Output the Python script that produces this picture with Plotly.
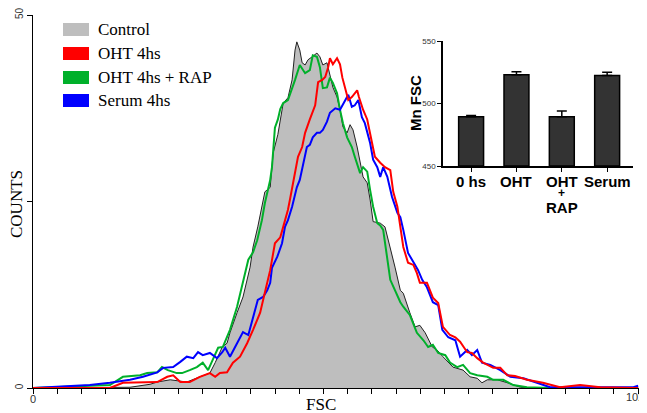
import plotly.graph_objects as go

# ---------------- Histogram data (FSC channel, counts) ----------------
ctrl_x = [0, 113, 164, 198, 210, 232, 260, 282, 299, 308, 313, 320, 328, 333, 345, 355, 367, 372, 380, 389, 392, 401, 406, 414, 423, 431, 438, 443, 446, 451, 455, 460, 465, 472, 480, 485, 490, 497, 501, 507, 514, 519, 524, 531, 536, 541, 548, 553, 558, 565, 570, 575, 587, 595, 604, 612, 621, 626, 637, 646, 654, 663, 675, 683, 693, 710, 727, 739, 751, 759, 768, 785, 802, 824, 846, 1023]
ctrl_y = [0, 0, 0.1, 0.5, 0.8, 1.1, 0.8, 1.5, 2.0, 3.4, 4.2, 5.5, 6.0, 7.4, 10.1, 12.2, 16.2, 18.9, 21.6, 24.8, 26.3, 26.9, 31.5, 34.0, 38.2, 38.9, 41.3, 45.3, 46.4, 45.3, 43.6, 43.3, 44.0, 44.4, 44.9, 44.4, 43.3, 43.6, 42.2, 40.3, 39.0, 37.3, 35.0, 34.2, 35.3, 34.6, 32.3, 30.2, 28.3, 27.5, 25.2, 22.3, 22.1, 21.6, 18.9, 16.2, 13.1, 12.7, 10.1, 8.2, 8.4, 7.4, 5.5, 5.1, 4.2, 2.8, 2.4, 1.5, 1.3, 0.7, 1.1, 1.1, 0.7, 0.1, 0, 0]

oht_x = [0, 130, 152, 186, 210, 227, 237, 249, 265, 282, 299, 308, 316, 328, 338, 350, 362, 372, 384, 392, 401, 409, 418, 423, 431, 435, 443, 448, 455, 460, 468, 477, 482, 489, 494, 499, 502, 507, 514, 519, 523, 528, 533, 539, 548, 551, 558, 565, 573, 578, 587, 595, 604, 609, 616, 621, 626, 634, 643, 649, 654, 666, 676, 685, 693, 705, 714, 722, 734, 742, 751, 761, 778, 790, 802, 815, 835, 862, 891, 925, 959, 1015, 1023]
oht_y = [0, 0, 0.7, 0.7, 0.8, 1.5, 1.7, 0.8, 0.8, 1.5, 2.0, 1.5, 2.0, 2.1, 3.4, 4.2, 6.0, 7.8, 10.1, 12.8, 15.8, 19.4, 20.2, 21.6, 23.9, 25.5, 29.2, 31.0, 32.3, 34.2, 36.0, 37.9, 41.0, 41.3, 41.7, 43.0, 44.2, 43.4, 44.2, 43.4, 41.6, 39.9, 38.6, 39.0, 39.9, 39.0, 37.3, 36.0, 33.2, 31.0, 30.2, 29.6, 29.2, 26.3, 24.3, 21.8, 18.9, 16.8, 16.5, 15.4, 14.1, 14.1, 12.1, 11.4, 8.2, 7.1, 6.8, 6.2, 4.8, 4.7, 4.0, 3.4, 2.7, 2.7, 1.7, 1.6, 1.1, 0.7, 0.1, 0.4, 0.1, 0, 0]

rap_x = [0, 130, 152, 181, 193, 210, 218, 228, 243, 252, 265, 277, 287, 296, 304, 313, 321, 333, 345, 355, 364, 372, 379, 387, 392, 397, 401, 404, 406, 409, 414, 418, 423, 431, 443, 451, 460, 468, 473, 480, 485, 490, 497, 502, 507, 514, 519, 524, 531, 539, 544, 553, 558, 565, 570, 575, 582, 587, 592, 599, 604, 621, 626, 637, 649, 660, 668, 676, 685, 697, 705, 717, 727, 739, 751, 768, 778, 795, 812, 835, 874, 1023]
rap_y = [0, 0.4, 1.5, 1.7, 2.0, 2.1, 2.8, 2.4, 2.0, 2.0, 2.4, 2.8, 3.4, 2.4, 3.8, 5.4, 5.5, 7.8, 10.9, 14.1, 17.2, 18.2, 19.8, 22.5, 24.8, 26.5, 27.9, 29.6, 32.3, 34.9, 36.0, 37.4, 38.2, 38.6, 41.3, 43.3, 42.2, 42.6, 44.6, 44.4, 43.0, 40.2, 40.3, 41.6, 40.9, 39.5, 37.3, 35.5, 33.6, 32.3, 31.0, 28.8, 29.6, 29.0, 26.5, 24.3, 22.1, 21.8, 21.2, 17.6, 14.5, 11.5, 10.9, 9.8, 7.4, 6.4, 5.5, 5.8, 4.7, 4.4, 3.4, 2.8, 3.1, 2.0, 1.7, 1.5, 1.1, 1.1, 0.4, 0.1, 0, 0]

ser_x = [0, 96, 130, 164, 186, 210, 220, 237, 249, 260, 271, 279, 287, 299, 311, 320, 325, 333, 345, 355, 364, 372, 380, 389, 396, 401, 404, 413, 421, 426, 431, 438, 446, 451, 460, 463, 468, 473, 480, 485, 490, 497, 502, 511, 519, 528, 533, 539, 544, 550, 556, 561, 570, 575, 582, 587, 592, 599, 604, 607, 616, 621, 626, 634, 643, 651, 658, 666, 676, 685, 692, 702, 714, 722, 734, 742, 751, 759, 773, 790, 807, 829, 852, 874, 937, 1015, 1023]
ser_y = [0, 0.4, 0.7, 1.1, 1.5, 2.1, 2.7, 2.8, 3.5, 4.2, 4.0, 4.8, 4.4, 4.7, 4.0, 4.8, 5.4, 4.2, 6.0, 7.5, 7.1, 9.5, 11.8, 12.2, 13.1, 14.1, 16.1, 17.6, 19.4, 21.6, 22.5, 24.3, 26.9, 27.9, 31.0, 32.3, 32.6, 33.6, 34.2, 34.2, 34.6, 35.7, 36.9, 37.5, 37.3, 38.6, 39.3, 37.7, 37.9, 38.6, 36.3, 35.5, 32.8, 30.6, 29.6, 28.3, 29.6, 28.3, 26.5, 25.6, 23.5, 22.9, 21.2, 18.1, 16.9, 15.8, 14.5, 13.5, 11.5, 11.1, 7.8, 6.8, 6.4, 4.2, 5.1, 4.4, 5.1, 3.4, 3.1, 2.4, 1.5, 1.3, 0.7, 0.1, 0.1, 0.1, 0.3]

legend_names = ["Control", "OHT 4hs", "OHT 4hs + RAP", "Serum 4hs"]
legend_colors = ["#BEBEBE", "#FF0000", "#00B02A", "#0000FF"]

x_tick_vals = [0, 1023]
x_tick_text = ["0", "1023"]
y_tick_vals = [0, 25, 50]
y_tick_text = ["0", "", "50"]

# ---------------- Inset bar data ----------------
bar_cats = ["0 hs", "OHT", "OHT + RAP", "Serum"]
bar_label_lines = [["0 hs"], ["OHT"], ["OHT", "+", "RAP"], ["Serum"]]
bar_vals = [489.5, 523.0, 489.5, 522.5]
bar_err = [1.0, 2.5, 4.5, 2.5]
inset_ticks = [450, 500, 550]

# The page body adds an 8px margin; size the figure so it ends at the window edge.
OFF = 8
W, H = 647 - OFF, 413 - OFF
L, R, T, B = 33 - OFF, 0, 15 - OFF, 25
PW, PH = W - L - R, H - T - B

def px(xp):
    return (xp - OFF - L) / PW

def py(yp):
    return (H - B - (yp - OFF)) / PH

SERIF = "Liberation Serif, Times New Roman, serif"
SANS = "Arial, Liberation Sans, sans-serif"

fig = go.Figure()

fig.add_trace(go.Scatter(x=ctrl_x, y=ctrl_y, mode="lines", fill="tozeroy",
                         fillcolor="#BEBEBE", line=dict(color="#222222", width=1),
                         name=legend_names[0], showlegend=False, hoverinfo="skip"))
fig.add_trace(go.Scatter(x=rap_x, y=rap_y, mode="lines",
                         line=dict(color=legend_colors[2], width=2),
                         name=legend_names[2], showlegend=False))
fig.add_trace(go.Scatter(x=ser_x, y=ser_y, mode="lines",
                         line=dict(color=legend_colors[3], width=2),
                         name=legend_names[3], showlegend=False))
fig.add_trace(go.Scatter(x=oht_x, y=oht_y, mode="lines",
                         line=dict(color=legend_colors[1], width=2),
                         name=legend_names[1], showlegend=False))

fig.add_trace(go.Bar(x=bar_cats, y=[v - 450 for v in bar_vals], base=450,
                     xaxis="x2", yaxis="y2", width=0.55,
                     marker=dict(color="#333333", line=dict(color="#000000", width=1.5)),
                     error_y=dict(type="data", array=bar_err, symmetric=False,
                                  arrayminus=[0] * len(bar_err),
                                  color="#000000", thickness=1.5, width=5),
                     showlegend=False))

axfont = dict(family=SANS, size=11, color="#333333")
fig.update_layout(
    width=W, height=H,
    margin=dict(l=L, r=R, t=T, b=B),
    paper_bgcolor="white", plot_bgcolor="white",
    xaxis=dict(range=[0, 1038], tickvals=x_tick_vals, ticktext=[x_tick_text[0], ""],
               automargin=False, ticklabeloverflow="allow", ticklabelstandoff=-4,
               showgrid=False, zeroline=False, showline=True, linecolor="black",
               linewidth=1, ticks="outside", ticklen=5, tickcolor="black",
               tickfont=axfont,
               minor=dict(tick0=0, dtick=1023 / 25, ticks="outside", ticklen=5,
                          tickcolor="black", showgrid=False),
               domain=[0, 1]),
    yaxis=dict(range=[0, 50], tickvals=y_tick_vals, ticktext=y_tick_text,
               automargin=False, ticklabeloverflow="allow",
               showgrid=False, zeroline=False, showline=True, linecolor="black",
               linewidth=1, ticks="outside", ticklen=5, tickcolor="black",
               tickangle=-90, tickfont=dict(family=SANS, size=10, color="#333333"),
               domain=[0, 1]),
    xaxis2=dict(domain=[px(443), px(633)], anchor="y2", type="category",
                automargin=False,
                range=[-0.62, 3.57], showgrid=False, zeroline=False,
                showline=True, linecolor="black", linewidth=1.5,
                ticks="outside", ticklen=4, tickcolor="black",
                showticklabels=False),
    yaxis2=dict(domain=[py(166), py(41)], anchor="x2", range=[450, 550],
                automargin=False,
                tickvals=inset_ticks, showgrid=False, zeroline=False,
                showline=True, linecolor="black", linewidth=1.5,
                ticks="outside", ticklen=4, tickcolor="black",
                tickfont=dict(family=SANS, size=8, color="#333333")),
)

# Right-end tick label of the main x axis (runs off the page edge as in the original)
fig.add_annotation(text=x_tick_text[1], xref="x", yref="paper", x=x_tick_vals[1],
                   y=py(397), xanchor="center", yanchor="middle", showarrow=False,
                   font=axfont)

# Axis titles
fig.add_annotation(text="COUNTS", xref="paper", yref="paper", x=px(16), y=py(204),
                   xanchor="center", yanchor="middle",
                   textangle=-90, showarrow=False,
                   font=dict(family=SERIF, size=17, color="black"))
fig.add_annotation(text="FSC", xref="paper", yref="paper", x=px(321), y=py(404),
                   xanchor="center", yanchor="middle", showarrow=False,
                   font=dict(family=SERIF, size=17, color="black"))
fig.add_annotation(text="<b>Mn FSC</b>", xref="paper", yref="paper", x=px(415), y=py(103),
                   xanchor="center", yanchor="middle",
                   textangle=-90, showarrow=False,
                   font=dict(family=SANS, size=15, color="black"))

# Inset category labels
line_y = [181, 193, 207]
line_size = [15, 12, 15]
for cat, lines in zip(bar_cats, bar_label_lines):
    for i, ln in enumerate(lines):
        fig.add_annotation(text="<b>%s</b>" % ln, xref="x2", yref="paper", x=cat,
                           y=py(line_y[i]), showarrow=False, xanchor="center",
                           yanchor="middle",
                           font=dict(family=SANS, size=line_size[i], color="black"))

# Legend (manual)
sw_top = [23, 47, 71, 94]
for name, col, top in zip(legend_names, legend_colors, sw_top):
    fig.add_shape(type="rect", xref="paper", yref="paper",
                  x0=px(63), x1=px(89), y0=py(top + 13), y1=py(top),
                  fillcolor=col, line=dict(width=0))
    fig.add_annotation(text=name, xref="paper", yref="paper", x=px(96),
                       y=py(top + 6.5), xanchor="left", yanchor="middle", showarrow=False,
                       font=dict(family=SERIF, size=17, color="black"))

fig.write_html("out.html",
               post_script="document.documentElement.style.overflow='hidden';"
                           "document.body.style.overflow='hidden';")
